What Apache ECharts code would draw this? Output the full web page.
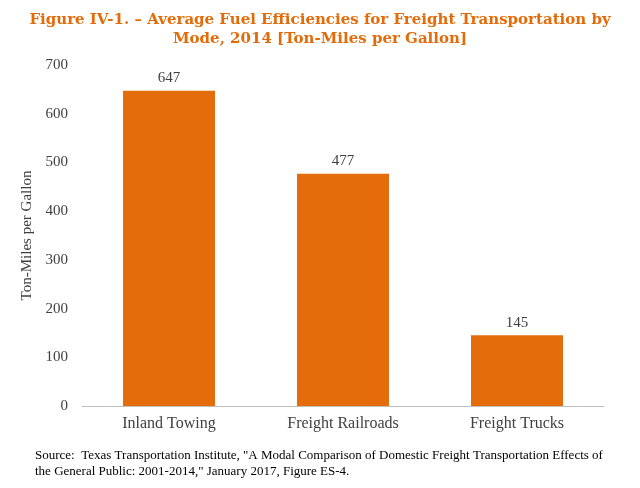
<!DOCTYPE html>
<html><head><meta charset="utf-8">
<script src="https://cdn.jsdelivr.net/npm/echarts@6/dist/echarts.min.js"></script>
<style>body{margin:0}#c{width:640px;height:488px}</style></head>
<body><div id="c"></div>
<script>
const categories = ["Inland Towing", "Freight Railroads", "Freight Trucks"];
const values = [647, 477, 145];
const chart = echarts.init(document.getElementById('c'));
chart.setOption({
  backgroundColor: '#fff',
  title: [{
    text: 'Figure IV-1. – Average Fuel Efficiencies for Freight Transportation by\nMode, 2014 [Ton-Miles per Gallon]',
    left: 'center', top: 6,
    textStyle: {fontFamily: 'DejaVu Serif', fontSize: 15, fontWeight: 'bold', color: '#E36C0A', lineHeight: 19, align: 'center'}
  }, {
    text: 'Source:  Texas Transportation Institute, "A Modal Comparison of Domestic Freight Transportation Effects of\nthe General Public: 2001-2014," January 2017, Figure ES-4.',
    left: 30, top: 443,
    textStyle: {fontFamily: 'Liberation Serif', fontSize: 13, fontWeight: 'normal', color: '#000', lineHeight: 16}
  }],
  grid: {left: 82, right: 36, top: 65, bottom: 82},
  xAxis: {
    type: 'category', data: categories,
    axisLine: {lineStyle: {color: '#bfbfbf'}}, axisTick: {show: false},
    axisLabel: {fontFamily: 'Liberation Serif', fontSize: 16, color: '#404040', margin: 10}
  },
  yAxis: {
    type: 'value', min: 0, max: 700, interval: 100,
    name: 'Ton-Miles per Gallon', nameLocation: 'middle', nameGap: 34,
    nameTextStyle: {fontFamily: 'Liberation Serif', fontSize: 15, color: '#404040'},
    splitLine: {show: false}, axisLine: {show: false}, axisTick: {show: false},
    axisLabel: {fontFamily: 'Liberation Serif', fontSize: 15, color: '#404040', margin: 14}
  },
  series: [{
    type: 'bar', data: values, barWidth: 92,
    itemStyle: {color: '#E46C0A'},
    label: {show: true, position: 'top', fontFamily: 'Liberation Serif', fontSize: 15, color: '#404040', distance: 5}
  }]
});
</script></body></html>
